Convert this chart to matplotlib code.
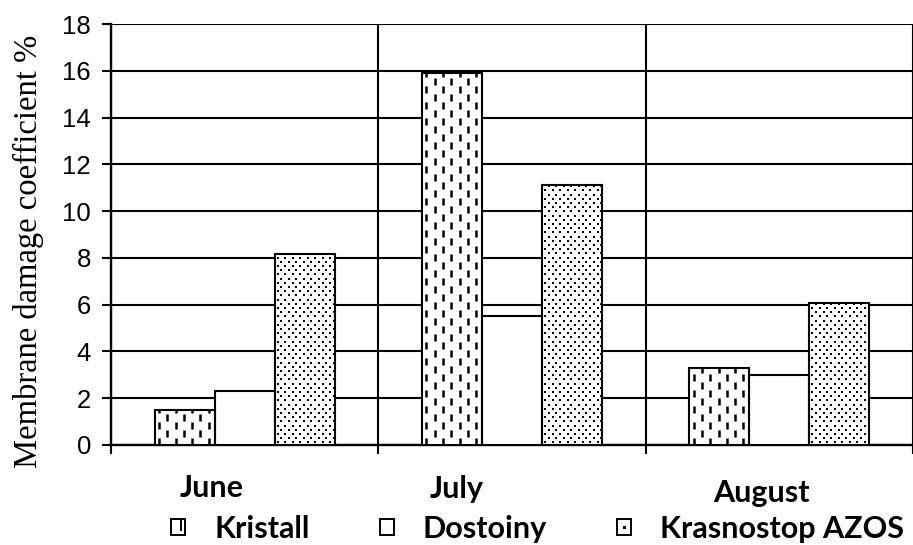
import numpy as np
import matplotlib
matplotlib.use("Agg")
import matplotlib.pyplot as plt
from matplotlib.lines import Line2D
from matplotlib.patches import Rectangle
from matplotlib.legend_handler import HandlerBase
from matplotlib.font_manager import FontProperties

# ---- data ----
months = ["June", "July", "August"]
varieties = ["Kristall", "Dostoiny", "Krasnostop AZOS"]
kristall = [1.5, 15.9, 3.3]
dostoiny = [2.3, 5.5, 3.0]
krasnostop = [8.15, 11.1, 6.05]
y_ticks = [0, 2, 4, 6, 8, 10, 12, 14, 16, 18]
y_label = "Membrane damage coefficient %"

plt.rcParams["lines.scale_dashes"] = False

W, H, DPI = 913, 545, 100
fig = plt.figure(figsize=(W / DPI, H / DPI), dpi=DPI)
fig.patch.set_facecolor("white")

# axes frame in pixels
ax_l, ax_b, ax_r, ax_t = 111, 445, 913, 24
ax = fig.add_axes([ax_l / W, 1 - ax_b / H, (ax_r - ax_l) / W, (ax_b - ax_t) / H])

n = len(months)
ymax = y_ticks[-1]
ax.set_xlim(0, n)
ax.set_ylim(0, ymax)
px_x = (ax_r - ax_l) / n      # pixels per category
px_y = (ax_b - ax_t) / ymax   # pixels per y unit

bw = 60 / px_x
centers = np.arange(n) + 0.5
series = [kristall, dostoiny, krasnostop]
offsets = [-bw, 0.0, bw]

bar_sets = []
for vals, off in zip(series, offsets):
    bars = ax.bar(centers + off, vals, width=bw, color="white",
                  edgecolor="none", zorder=3)
    ax.bar(centers + off, vals, width=bw, fill=False,
           edgecolor="black", linewidth=1.5, zorder=5)
    bar_sets.append(bars)


def dash_fill(rect):
    """Columns of short vertical dashes inside a bar."""
    x0, w, h = rect.get_x(), rect.get_width(), rect.get_height()
    step = 8.3 / px_x
    xs = np.arange(x0 + 4.3 / px_x, x0 + w - 1.5 / px_x, step)
    on, off = 7 * 0.72, 9 * 0.72
    for i, x in enumerate(xs):
        shift = 0.0 if i % 2 == 0 else 8 * 0.72
        ln = Line2D([x, x], [0, h], color="black", lw=1.8,
                    linestyle=(shift, (on, off)), dash_capstyle="butt",
                    zorder=4)
        ax.add_line(ln)
        ln.set_clip_path(rect)


def dot_fill(rect):
    """Staggered grid of fine dots inside a bar."""
    x0, w, h = rect.get_x(), rect.get_width(), rect.get_height()
    dx = 7.5 / px_x
    dy = 4.2 / px_y
    xs_all, ys_all = [], []
    for j, y in enumerate(np.arange(dy * 0.6, h, dy)):
        start = x0 + (3.0 + (3.75 if j % 2 else 0.0)) / px_x
        xs = np.arange(start, x0 + w, dx)
        xs_all.extend(xs)
        ys_all.extend([y] * len(xs))
    sc = ax.scatter(xs_all, ys_all, marker="s", s=3.0, c="black",
                    linewidths=0, zorder=4)
    sc.set_clip_path(rect)


for r in bar_sets[0]:
    dash_fill(r)
for r in bar_sets[2]:
    dot_fill(r)

# ---- axes styling ----
ax.set_yticks(y_ticks)
ax.set_xticks(np.arange(n + 1))
ax.set_xticklabels([])
ax.set_axisbelow(True)
ax.grid(True, axis="both", color="black", linewidth=1.5)
for side in ("top", "right"):
    ax.spines[side].set_visible(False)
for side in ("left", "bottom"):
    ax.spines[side].set_linewidth(1.7)
    ax.spines[side].set_color("black")
ax.tick_params(axis="x", direction="out", length=9 * 0.72, width=1.5)
ax.tick_params(axis="y", direction="out", length=9 * 0.72, width=1.5,
               pad=8.0, labelsize=18.5)
for lab in ax.get_yticklabels():
    lab.set_family("Liberation Sans")

ax.set_ylabel(y_label, family="Liberation Serif", fontsize=23.5)
ax.yaxis.set_label_coords((44 - ax_l) / (ax_r - ax_l), (ax_b - 251) / (ax_b - ax_t))

# ---- month names ----
label_font = dict(family="Lato", fontweight="bold", fontsize=22)
month_pos = [(180, 497), (430, 498), (713, 502)]
for name, (px, py) in zip(months, month_pos):
    fig.text(px / W, 1 - py / H, name, ha="left", va="baseline", **label_font)


# ---- legend ----
class SwatchHandler(HandlerBase):
    def __init__(self, kind):
        super().__init__()
        self.kind = kind

    def create_artists(self, legend, orig_handle, xdescent, ydescent,
                       width, height, fontsize, trans):
        x0, y0 = -xdescent, -ydescent
        arts = [Rectangle((x0, y0), width, height, facecolor="white",
                          edgecolor="black", linewidth=1.4, transform=trans)]
        if self.kind == "dash":
            arts.append(Line2D([x0 + 0.68 * width] * 2,
                               [y0 + 0.3 * height, y0 + height],
                               color="black", lw=1.4, transform=trans))
        elif self.kind == "dot":
            s = 0.22 * width
            arts.append(Rectangle((x0 + 0.5 * width - s / 2, y0 + 0.5 * height - s / 2),
                                  s, s, facecolor="black", edgecolor="none",
                                  transform=trans))
        return arts


handles = [bar_sets[0], bar_sets[1], bar_sets[2]]
handler_map = {bar_sets[0]: SwatchHandler("dash"),
               bar_sets[1]: SwatchHandler("plain"),
               bar_sets[2]: SwatchHandler("dot")}
fig.legend(handles, varieties, handler_map=handler_map,
           loc="center left", bbox_to_anchor=(171 / W, 1 - 529 / H),
           ncol=3, frameon=False, borderpad=0, borderaxespad=0,
           handlelength=0.46, handleheight=0.46, handletextpad=0.95,
           columnspacing=2.3,
           prop=FontProperties(family="Lato", weight="bold", size=22))

fig.savefig("out.png", dpi=DPI, facecolor="white")
